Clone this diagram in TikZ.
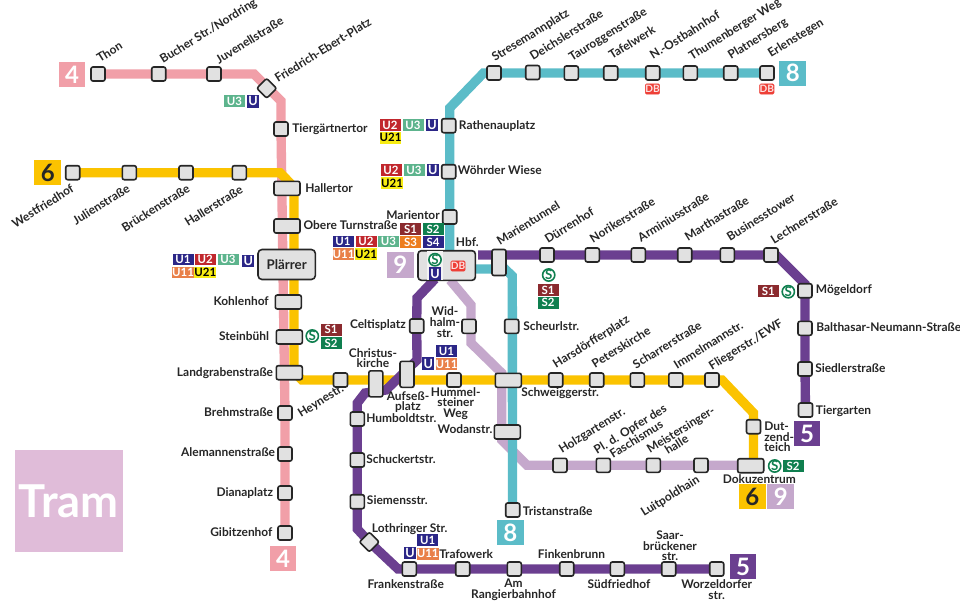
\documentclass[tikz,border=0pt]{standalone}
\usepackage{fontspec}
\setmainfont{Lato}
\definecolor{c4}{HTML}{F19FA8}
\definecolor{c5}{HTML}{6B3F90}
\definecolor{c6}{HTML}{FBC300}
\definecolor{c8}{HTML}{5BBCC8}
\definecolor{c9}{HTML}{C5A8CC}
\definecolor{cU}{HTML}{2B2687}
\definecolor{cUb}{HTML}{C1272D}
\definecolor{cUc}{HTML}{5DB48D}
\definecolor{cUd}{HTML}{E98049}
\definecolor{cUe}{HTML}{F7EC13}
\definecolor{cSa}{HTML}{8B2A2E}
\definecolor{cSb}{HTML}{0F7F4F}
\definecolor{cSc}{HTML}{ED7D1F}
\definecolor{cDB}{HTML}{EE3F37}
\definecolor{tram}{HTML}{E0BCD9}
\definecolor{stfill}{HTML}{E1E1E1}
\definecolor{ink}{HTML}{262626}
\pgfdeclarelayer{lines}
\pgfsetlayers{lines,main}
\tikzset{
 ln/.style={line width=7pt,line join=miter,line cap=butt},
 stn/.style={draw=ink,line width=1.2pt,fill=stfill,rounded corners=1.5pt,inner sep=0pt,minimum width=10.5pt,minimum height=10.5pt},
 stw/.style={stn,minimum width=19.5pt},
 stt/.style={stn,minimum height=19.5pt},
 dia/.style={stn,rotate=45},
 txt/.style={text=ink,inner sep=0pt,font=\fontsize{8.95pt}{8pt}\selectfont\bfseries},
 lw/.style={txt,anchor=west,text height=6.8pt,text depth=2pt},
 le/.style={txt,anchor=east,text height=6.8pt,text depth=2pt},
 lc/.style={txt,anchor=center,align=center},
 rot/.style={txt,anchor=base west,rotate=32},
 rote/.style={txt,anchor=base east,rotate=32},
 tagb/.style={inner sep=0pt,minimum width=15.75pt,minimum height=8.8pt,text=white,font=\fontsize{8.6pt}{9pt}\selectfont\bfseries},
 tu1/.style={tagb,fill=cU},
 tu2/.style={tagb,fill=cUb},
 tu3/.style={tagb,fill=cUc},
 tu11/.style={tagb,fill=cUd},
 tu21/.style={tagb,fill=cUe,text=black},
 ts1/.style={tagb,fill=cSa},
 ts2/.style={tagb,fill=cSb},
 ts3/.style={tagb,fill=cSc},
 ts4/.style={tagb,fill=cU},
 uic/.style={tagb,fill=cU,minimum width=9.2pt,minimum height=9.4pt,font=\fontsize{9.5pt}{9pt}\selectfont\bfseries},
 sic/.style={circle,draw=cSb,fill=white,line width=1.2pt,inner sep=0pt,minimum size=9pt,text=cSb,font=\fontsize{10pt}{9pt}\selectfont\bfseries},
 dbi/.style={fill=cDB,draw=cDB,rounded corners=1pt,inner sep=0pt,minimum width=10.6pt,minimum height=7.8pt,text=white!85!cDB,font=\fontsize{7.6pt}{8pt}\selectfont\bfseries},
 bdg/.style={inner sep=0pt,minimum width=20pt,minimum height=19pt,text=white,font=\fontsize{18pt}{18pt}\selectfont\bfseries},
}
\begin{document}
\begin{tikzpicture}[x=0.75pt,y=-0.75pt]
\useasboundingbox (0,0) rectangle (960,601);
% stations
\node[stn] (thon) at (98,74) {};
\node[stn] (buch) at (158.7,74) {};
\node[stn] (juve) at (214,74) {};
\node[dia] (frie) at (266.7,88.3) {};
\node[stn] (tier) at (281,129) {};
\node[stw] (hall) at (287,188.3) {};
\node[stw] (ober) at (287,226) {};
\node[stn,rounded corners=3pt,minimum width=43pt,minimum height=22.5pt,font=\fontsize{10pt}{10pt}\selectfont\bfseries,text=ink] (plae) at (286.7,264.5) {Plärrer};
\node[stw] (kohl) at (288.3,302) {};
\node[stw] (stei) at (289.3,337) {};
\node[stw] (land) at (289.3,372.7) {};
\node[stn] (breh) at (285,413) {};
\node[stn] (alem) at (285,454) {};
\node[stn] (dian) at (285,493) {};
\node[stn] (gibi) at (285,533) {};
\node[stn] (west) at (72.7,172.7) {};
\node[stn] (juli) at (129.3,172.7) {};
\node[stn] (brue) at (186,172.7) {};
\node[stn] (hals) at (239.3,172.7) {};
\node[stn] (heyn) at (340.5,380) {};
\node[stt] (chri) at (375.8,383.8) {};
\node[stt] (aufs) at (407,374.3) {};
\node[stn] (humm) at (454,380) {};
\node[stw] (schw) at (508.3,380.3) {};
\node[stn] (hars) at (555.7,380) {};
\node[stn] (pete) at (596.7,380) {};
\node[stn] (scha) at (637.3,380) {};
\node[stn] (imme) at (675.8,380) {};
\node[stn] (flie) at (712,380) {};
\node[stn] (dutz) at (753.5,426.7) {};
\node[stw] (doku) at (750.7,465.7) {};
\node[stn] (stre) at (494,73) {};
\node[stn] (deic) at (532.7,72.5) {};
\node[stn] (taur) at (571.3,73) {};
\node[stn] (tafe) at (610.7,73) {};
\node[stn] (nost) at (652.7,73) {};
\node[stn] (thum) at (690.3,73) {};
\node[stn] (plat) at (730.7,73) {};
\node[stn] (erle) at (767,73) {};
\node[stn] (rath) at (448.7,125.7) {};
\node[stn] (woeh) at (448.7,171.7) {};
\node[stn] (mart) at (449.7,217) {};
\node[stn,rounded corners=2.5pt,minimum width=43pt,minimum height=22.2pt] (hbf) at (446.7,265.5) {};
\node[stt] (mtun) at (499,262.5) {};
\node[stn] (scheu) at (511.7,326.3) {};
\node[stw] (woda) at (507.3,432) {};
\node[stn] (tris) at (512.7,510) {};
\node[stn] (duer) at (547,255) {};
\node[stn] (nori) at (592.3,255) {};
\node[stn] (armi) at (638.3,255) {};
\node[stn] (mars) at (684.7,255) {};
\node[stn] (busi) at (727.3,255) {};
\node[stn] (lech) at (771,255) {};
\node[stn] (moeg) at (805,290.7) {};
\node[stn] (balt) at (805,328.3) {};
\node[stn] (sied) at (805,369) {};
\node[stn] (tgar) at (805.5,410) {};
\node[stn] (celt) at (416.7,326) {};
\node[stn] (humb) at (357.3,419) {};
\node[stn] (schu) at (357.3,460) {};
\node[stn] (siem) at (357.3,501.7) {};
\node[dia] (loth) at (369.3,542) {};
\node[stn] (fran) at (409.3,569) {};
\node[stn] (traf) at (462.7,569) {};
\node[stn] (rang) at (514.3,569) {};
\node[stn] (fink) at (566.7,569) {};
\node[stn] (sued) at (617.3,569) {};
\node[stn] (saar) at (668.7,569) {};
\node[stn] (worz) at (716.7,569) {};
\node[stn] (widh) at (469,326.3) {};
\node[stn] (holz) at (560,465.3) {};
\node[stn] (opfe) at (603.3,465.3) {};
\node[stn] (meis) at (653.3,465.3) {};
\node[stn] (luit) at (701,465.3) {};
% bends
\coordinate (b4a) at (254,74);
\coordinate (b4b) at (281,101);
\coordinate (b6a) at (280,172.7);
\coordinate (b6b) at (294,187);
\coordinate (b6c) at (294,372);
\coordinate (b6d) at (302,380);
\coordinate (b6e) at (722,380);
\coordinate (b6f) at (753.5,413);
\coordinate (b8a) at (483.5,73);
\coordinate (b8b) at (449.7,108);
\coordinate (b8c) at (449.7,255);
\coordinate (b8d) at (470,269);
\coordinate (b8e) at (505,269);
\coordinate (b8f) at (512.3,276);
\coordinate (b8g) at (512.5,505);
\coordinate (b5a) at (478,255);
\coordinate (b5b) at (776,255);
\coordinate (b5c) at (805,284);
\coordinate (b5d) at (435,279);
\coordinate (b5e) at (417,298);
\coordinate (b5f) at (417,360);
\coordinate (b5g) at (386,390);
\coordinate (b5h) at (365,393);
\coordinate (b5i) at (357.3,403);
\coordinate (b5j) at (357.3,529);
\coordinate (b5k) at (398,569);
\coordinate (b9a) at (450,280);
\coordinate (b9b) at (471,305);
\coordinate (b9c) at (471,343);
\coordinate (b9d) at (501.7,373);
\coordinate (b9e) at (501.7,440);
\coordinate (b9f) at (527,465.3);
\coordinate (b9g) at (745,465.3);
\begin{pgfonlayer}{lines}
\fill[white] (0,0) rectangle (960,601);
\draw[ln,c4] (thon.center) -- (buch.center) -- (juve.center) -- (b4a) -- (b4b) -- (tier.center) -- (breh.center) -- (alem.center) -- (dian.center) -- (gibi.center);
\draw[ln,c6] (west.center) -- (juli.center) -- (brue.center) -- (hals.center) -- (b6a) -- (b6b) -- (b6c) -- (b6d) -- (heyn.center) -- (humm.center) -- (hars.center) -- (pete.center) -- (scha.center) -- (imme.center) -- (flie.center) -- (b6e) -- (b6f) -- (dutz.center) -- (dutz.center |- doku.center);
\draw[ln,c9] (b9a) -- (b9b) -- (widh.center -| b9b) -- (b9c) -- (b9d) -- (b9e) -- (b9f) -- (holz.center) -- (opfe.center) -- (meis.center) -- (luit.center) -- (b9g);
\draw[ln,c5] (b5a) -- (duer.center) -- (nori.center) -- (armi.center) -- (mars.center) -- (busi.center) -- (lech.center) -- (b5b) -- (b5c) -- (moeg.center) -- (balt.center) -- (sied.center) -- (tgar.center);
\draw[ln,c5] (b5d) -- (b5e) -- (celt.center) -- (b5f) -- (b5g) -- (b5h) -- (b5i) -- (humb.center) -- (schu.center) -- (siem.center) -- (b5j) -- (loth.center) -- (b5k) -- (fran.center) -- (traf.center) -- (rang.center) -- (fink.center) -- (sued.center) -- (saar.center) -- (worz.center);
\draw[ln,c8] (erle.center) -- (plat.center) -- (thum.center) -- (nost.center) -- (tafe.center) -- (taur.center) -- (stre.center) -- (b8a) -- (b8b) -- (mart.center) -- (b8c);
\draw[ln,c8] (b8d) -- (b8e) -- (b8f) -- (b8g);
\end{pgfonlayer}
% Hbf inner
\fill[white!60!stfill] (427,251) rectangle (443,280);
\node[sic] (hbfs) at (435,259.7) {S};
\node[uic] (hbfu) at (435,273.5) {U};
\node[dbi] (hbfd) at (458,266) {DB};
% badges
\node[bdg,fill=c4] (b4) at (72,74.5) {4};
\node[bdg,fill=c4] (b4s) at (283,558.7) {4};
\node[bdg,fill=c6,text=ink] (b6) at (47.8,172.5) {6};
\node[bdg,fill=c6,text=ink] (b6s) at (752.4,496.5) {6};
\node[bdg,fill=c8] (b8) at (792.7,73.2) {8};
\node[bdg,fill=c8] (b8s) at (510.3,532.7) {8};
\node[bdg,fill=c5] (b5) at (807,433.8) {5};
\node[bdg,fill=c5] (b5s) at (743,566.7) {5};
\node[bdg,fill=c9] (b9) at (400.3,265) {9};
\node[bdg,fill=c9] (b9s) at (780.8,496.5) {9};
\node[fill=tram,text=white,inner sep=0pt,minimum width=80.7pt,minimum height=76.5pt,font=\fontsize{34pt}{34pt}\selectfont\bfseries] (tramb) at (68.8,501) {Tram};
% tags
\node[tu3] (f3) at (234.5,101.3) {U3};
\node[uic] (fu) at (253,101.3) {U};
\node[tu2] (r2) at (390,125) {U2};
\node[tu3] (r3) at (413,125) {U3};
\node[uic] (ru) at (432,125) {U};
\node[tu21] (r21) at (390.5,137.7) {U21};
\node[tu2] (w2) at (391,170) {U2};
\node[tu3] (w3) at (414,170) {U3};
\node[uic] (wu) at (432.7,170) {U};
\node[tu21] (w21) at (392,183) {U21};
\node[tu1] (p1) at (183,259.5) {U1};
\node[tu2] (p2) at (205.3,259.5) {U2};
\node[tu3] (p3) at (228,259.5) {U3};
\node[uic] (pu) at (248.3,261) {U};
\node[tu11] (p11) at (183,272.5) {U11};
\node[tu21] (p21) at (205.3,272.5) {U21};
\node[tu1] (o1) at (343,241.5) {U1};
\node[tu2] (o2) at (366,241.5) {U2};
\node[tu3] (o3) at (388.5,241.5) {U3};
\node[tu11] (o11) at (343.5,254) {U11};
\node[tu21] (o21) at (366,254) {U21};
\node[ts1] (m1) at (410.5,229) {S1};
\node[ts2] (m2) at (433,229) {S2};
\node[ts3] (m3) at (410.5,242) {S3};
\node[ts4] (m4) at (433,242) {S4};
\node[sic] (ds) at (548.7,275) {S};
\node[ts1] (d1) at (548,290) {S1};
\node[ts2] (d2) at (548,302.7) {S2};
\node[sic] (ss) at (312.3,336) {S};
\node[ts1] (s1) at (331,329.7) {S1};
\node[ts2] (s2) at (331,343) {S2};
\node[ts1] (mo1) at (768.3,291.3) {S1};
\node[sic] (mos) at (788.3,291.7) {S};
\node[tu1] (a1) at (446.5,351) {U1};
\node[tu11] (a11) at (446.5,364.3) {U11};
\node[uic] (au) at (428.3,363.7) {U};
\node[tu1] (fr1) at (427.7,540) {U1};
\node[tu11] (fr11) at (427.7,553.8) {U11};
\node[uic] (fru) at (410,553) {U};
\node[dbi] (db1) at (652.5,89) {DB};
\node[dbi] (db2) at (766.8,89) {DB};
\node[sic] (dos) at (774.7,466) {S};
\node[ts2] (dos2) at (793,466.3) {S2};
% labels
\node[rot] (lthon) at (100,63) {Thon};
\node[rot] (lbuch) at (163,64) {Bucher Str./Nordring};
\node[rot] (ljuve) at (219,64.5) {Juvenellstraße};
\node[rot] (lfrie) at (278,83) {Friedrich-Ebert-Platz};
\node[lw] (ltier) at (292,129) {Tiergärtnertor};
\node[lw] (lhall) at (305,189) {Hallertor};
\node[lw] (lober) at (303.3,226) {Obere Turnstraße};
\node[le] (lkohl) at (269,302) {Kohlenhof};
\node[le] (lstei) at (269.3,337) {Steinbühl};
\node[le] (lland) at (273.3,373) {Landgrabenstraße};
\node[le] (lbreh) at (273.3,413.3) {Brehmstraße};
\node[le] (lalem) at (275.3,453.7) {Alemannenstraße};
\node[le] (ldian) at (273.3,493) {Dianaplatz};
\node[le] (lgibi) at (272.7,533) {Gibitzenhof};
\node[rote] (lwest) at (75,191) {Westfriedhof};
\node[rote] (ljuli) at (131,191) {Julienstraße};
\node[rote] (lbrue) at (191,191) {Brückenstraße};
\node[rote] (lhals) at (244,192) {Hallerstraße};
\node[rot] (lstre) at (495,62) {Stresemannplatz};
\node[rot] (ldeic) at (533,61) {Deichslerstraße};
\node[rot] (ltaur) at (572,61.5) {Tauroggenstraße};
\node[rot] (ltafe) at (612,60) {Tafelwerk};
\node[rot] (lnost) at (653,60) {N.-Ostbahnhof};
\node[rot] (lthum) at (692,60.5) {Thumenberger Weg};
\node[rot] (lplat) at (731,60) {Platnersberg};
\node[rot] (lerle) at (771,58) {Erlenstegen};
\node[lw] (lrath) at (458.7,126) {Rathenauplatz};
\node[lw] (lwoeh) at (457.7,171.7) {Wöhrder Wiese};
\node[le] (lmart) at (440,216) {Marientor};
\node[lw] (lhbf) at (455.7,243) {Hbf.};
\node[rot] (lmtun) at (500,246) {Marientunnel};
\node[rot] (lduer) at (548,244) {Dürrenhof};
\node[rot] (lnori) at (593,243.5) {Norikerstraße};
\node[rot] (larmi) at (641,242.5) {Arminiusstraße};
\node[rot] (lmars) at (688,241.5) {Marthastraße};
\node[rot] (lbusi) at (730,241.5) {Businesstower};
\node[rot] (llech) at (774,244.5) {Lechnerstraße};
\node[lw] (lmoeg) at (815.7,290.3) {Mögeldorf};
\node[lw] (lbalt) at (816,328.3) {Balthasar-Neumann-Straße};
\node[lw] (lsied) at (815,369.3) {Siedlerstraße};
\node[lw] (ltgar) at (815.7,411) {Tiergarten};
\node[le] (lcelt) at (406,325) {Celtisplatz};
\node[lc] (lwidh) at (445,322) {Wid-\\halm-\\str.};
\node[lw] (lscheu) at (523,327) {Scheurlstr.};
\node[lc] (lchri) at (373,358) {Christus-\\kirche};
\node[lc] (laufs) at (408,402) {Aufseß-\\platz};
\node[lc] (lhumm) at (455.7,403.5) {Hummel-\\steiner\\Weg};
\node[rot] (lheyn) at (301,418) {Heynestr.};
\node[lw] (lhumb) at (366,419.3) {Humboldtstr.};
\node[lw] (lschu) at (366,460.7) {Schuckertstr.};
\node[lw] (lsiem) at (366.7,501.7) {Siemensstr.};
\node[lw] (lloth) at (371.7,529.3) {Lothringer Str.};
\node[lw] (lschw) at (521,393.5) {Schweiggerstr.};
\node[le] (lwoda) at (492.7,430.7) {Wodanstr.};
\node[lw] (ltris) at (522.7,512) {Tristanstraße};
\node[lw] (ltraf) at (439,555.7) {Trafowerk};
\node[lw] (lfink) at (537.7,555) {Finkenbrunn};
\node[lc] (lfran) at (405.7,584) {Frankenstraße};
\node[lc] (lrang) at (513.5,589.5) {Am\\Rangierbahnhof};
\node[lc] (lsued) at (619,584) {Südfriedhof};
\node[lc] (lworz) at (716.7,589.5) {Worzeldorfer\\str.};
\node[lc] (lsaar) at (670,546) {Saar-\\brückener\\str.};
\node[rot] (lluit) at (644,517) {Luitpoldhain};
\node[lc] (ldoku) at (759.3,479) {Dokuzentrum};
\node[lc,align=left,anchor=west] (ldutz) at (764,437) {Dut-\\zend-\\teich};
\node[rot] (lholz) at (562,454) {Holzgartenstr.};
\node[rot] (lopfe) at (597,455) {Pl. d. Opfer des};
\node[rot] (lfasc) at (613,459) {Faschismus};
\node[rot] (lmeis) at (650,454) {Meistersinger-};
\node[rot] (lhall2) at (668,455) {halle};
\node[rot] (lhars) at (556,368.5) {Harsdörfferplatz};
\node[rot] (lpete) at (595,368.5) {Peterskirche};
\node[rot] (lscha) at (636,369.5) {Scharrerstraße};
\node[rot] (limme) at (677,369.5) {Immelmannstr.};
\node[rot] (lflie) at (712,370.5) {Fliegerstr./EWF};
\end{tikzpicture}
\end{document}
